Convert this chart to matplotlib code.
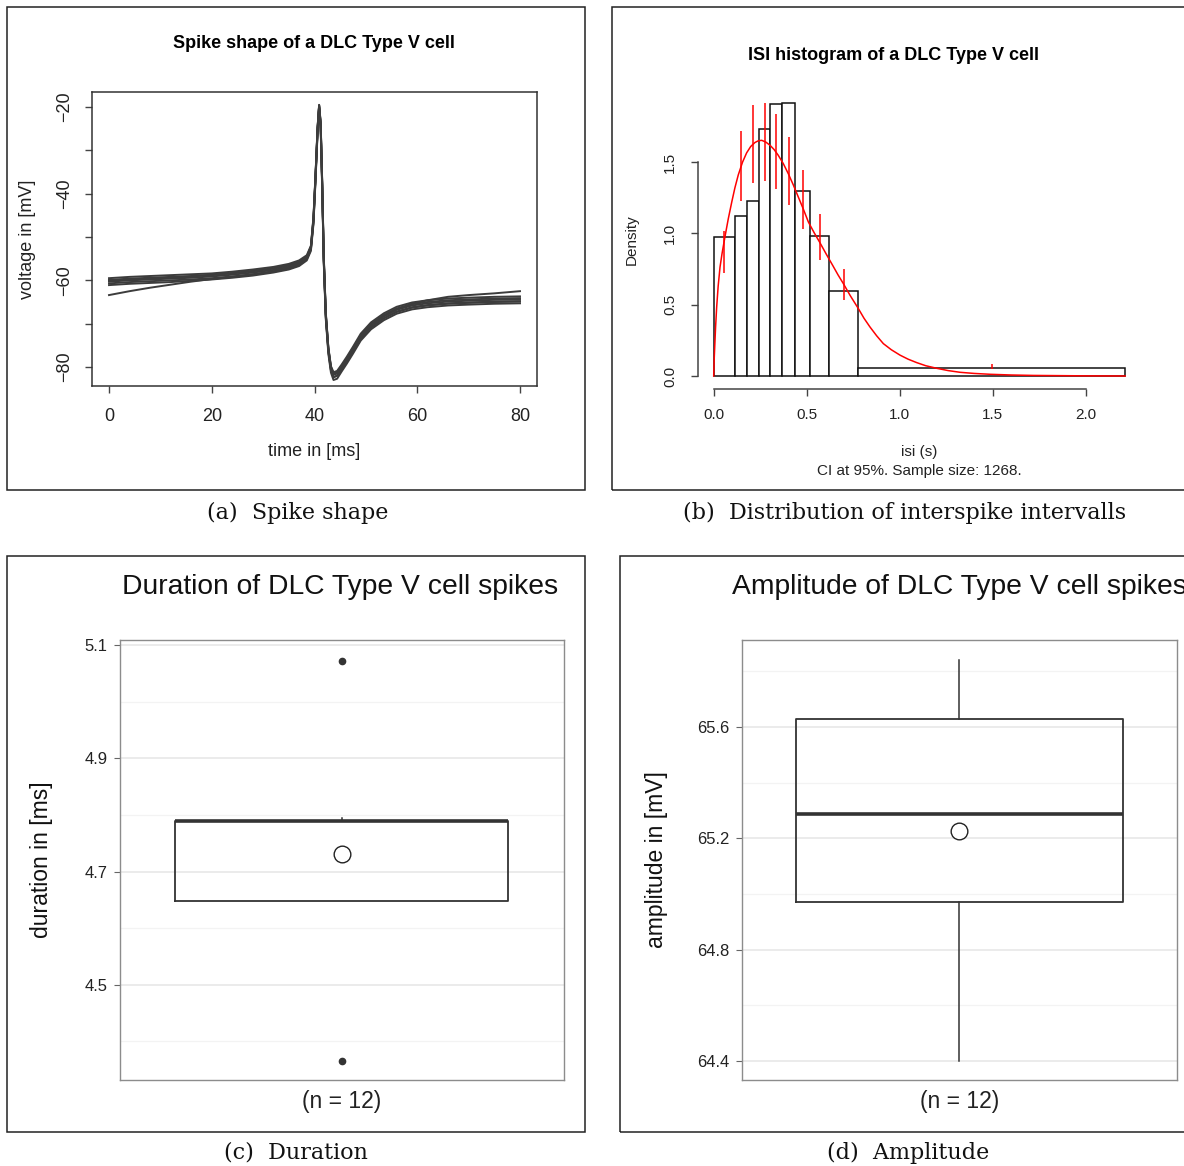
import numpy as np
import matplotlib
matplotlib.use("Agg")
import matplotlib.pyplot as plt
from matplotlib.patches import Rectangle

plt.rcParams['font.family'] = ['Liberation Sans', 'DejaVu Sans']

# ---- (a) spike shape: traces ----
t_ms = [0, 4, 8, 12, 16, 20, 24, 28, 32, 35, 37, 38.5, 39.3, 39.8, 40.2, 40.6, 40.9,
        41.2, 41.5, 41.8, 42.2, 42.7, 43.2, 43.7, 44.4, 45.3, 46.3, 47.5, 49, 51,
        53.5, 56, 59, 62, 66, 70, 75, 80]
trace_a = [-60.3, -60.0, -59.8, -59.6, -59.4, -59.1, -58.7, -58.2, -57.6, -56.9, -56.1, -54.8,
           -52.5, -46, -36, -25, -19.7, -24, -38, -55, -68, -76, -80.3, -81.8, -81.5, -80.0,
           -78.3, -76.0, -73.0, -70.4, -68.3, -66.8, -65.8, -65.3, -64.9, -64.7, -64.5, -64.4]
trace_b = [-59.5, -59.2, -59.0, -58.8, -58.6, -58.4, -58.0, -57.5, -56.9, -56.2, -55.4, -54.2,
           -52.0, -45.3, -35.5, -24.5, -19.5, -23.5, -37.2, -54.2, -67.4, -75.5, -79.8, -81.2,
           -80.9, -79.4, -77.6, -75.3, -72.3, -69.7, -67.6, -66.1, -65.1, -64.6, -64.2, -64.0,
           -63.8, -63.7]
trace_c = [-61.1, -60.8, -60.6, -60.4, -60.1, -59.8, -59.4, -58.9, -58.2, -57.5, -56.7, -55.4,
           -53.2, -47, -37, -26, -20.3, -25, -39, -56, -69, -77, -81.3, -83.0, -82.7, -81.0,
           -79.2, -76.9, -73.9, -71.3, -69.2, -67.7, -66.7, -66.2, -65.8, -65.6, -65.4, -65.3]
trace_d = [-59.9, -59.6, -59.4, -59.2, -59.0, -58.7, -58.3, -57.8, -57.2, -56.5, -55.7, -54.5,
           -52.2, -45.6, -35.8, -24.8, -19.6, -23.8, -37.6, -54.6, -67.7, -75.7, -80.0, -81.5,
           -81.2, -79.7, -78.0, -75.7, -72.7, -70.1, -68.0, -66.5, -65.5, -65.0, -64.6, -64.4,
           -64.2, -64.1]
trace_e = [-60.7, -60.4, -60.2, -60.0, -59.8, -59.5, -59.1, -58.6, -58.0, -57.3, -56.5, -55.1,
           -52.8, -46.5, -36.4, -25.4, -19.9, -24.4, -38.4, -55.4, -68.4, -76.4, -80.7, -82.3,
           -82.0, -80.4, -78.7, -76.4, -73.4, -70.8, -68.7, -67.2, -66.2, -65.7, -65.3, -65.1,
           -64.9, -64.8]
trace_f = [-63.4, -62.5, -61.7, -61.0, -60.3, -59.7, -59.2, -58.6, -57.9, -57.2, -56.4, -55.0,
           -52.8, -46.5, -36.5, -25.5, -20.0, -24.5, -38.5, -55.5, -68.5, -76.4, -80.7, -82.4,
           -82.0, -80.5, -78.8, -76.5, -73.5, -70.9, -68.8, -67.3, -66.3, -65.8, -65.4, -65.2,
           -65.0, -64.9]
trace_g = [-60.0, -59.8, -59.6, -59.4, -59.1, -58.8, -58.4, -57.9, -57.3, -56.6, -55.8, -54.6,
           -52.3, -45.8, -35.8, -24.8, -19.6, -23.8, -37.6, -54.6, -67.8, -75.8, -80.1, -81.6,
           -81.3, -79.8, -78.1, -75.8, -72.8, -70.2, -68.1, -66.6, -65.4, -64.6, -63.8, -63.4,
           -63.0, -62.5]
traces = [trace_a, trace_b, trace_c, trace_d, trace_e, trace_f, trace_g]

# ---- (b) ISI histogram ----
isi_breaks = [0, 0.1145, 0.1806, 0.2435, 0.3043, 0.3688, 0.4371, 0.5194, 0.6215, 0.7758, 2.212]
isi_density = [0.975, 1.122, 1.227, 1.735, 1.910, 1.915, 1.297, 0.980, 0.594, 0.054]
ci_lo = [0.722, 1.227, 1.353, 1.367, 1.311, 1.197, 1.031, 0.811, 0.536, 0.052]
ci_hi = [1.017, 1.718, 1.898, 1.917, 1.835, 1.676, 1.442, 1.139, 0.753, 0.082]
fit_x = [0, 0.003, 0.007, 0.010, 0.016, 0.024, 0.034, 0.045, 0.061, 0.078, 0.097, 0.114,
         0.132, 0.155, 0.177, 0.199, 0.222, 0.240, 0.258, 0.280, 0.303, 0.325, 0.347, 0.374,
         0.401, 0.428, 0.455, 0.482, 0.509, 0.540, 0.571, 0.605, 0.640, 0.668, 0.697, 0.733,
         0.777, 0.808, 0.840, 0.876, 0.912, 0.955, 1.002, 1.045, 1.091, 1.140, 1.199, 1.260,
         1.324, 1.400, 1.486, 1.600, 1.718, 2.000, 2.212]
fit_y = [0, 0.13, 0.25, 0.34, 0.484, 0.63, 0.764, 0.86, 0.98, 1.10, 1.22, 1.32,
         1.41, 1.50, 1.565, 1.61, 1.638, 1.650, 1.653, 1.641, 1.618, 1.588, 1.548, 1.49,
         1.419, 1.34, 1.255, 1.17, 1.080, 1.005, 0.935, 0.855, 0.775, 0.71, 0.648, 0.566,
         0.474, 0.405, 0.344, 0.282, 0.227, 0.184, 0.146, 0.118, 0.094, 0.072, 0.054, 0.038,
         0.026, 0.018, 0.012, 0.007, 0.004, 0.001, 0.0]

# ---- (c) duration / (d) amplitude box statistics ----
dur_box = dict(q1=4.648, med=4.79, q3=4.79, whislo=4.648, whishi=4.795, mean=4.731,
               fliers=[5.072, 4.366])
amp_box = dict(q1=64.971, med=65.286, q3=65.629, whislo=64.40, whishi=65.84, mean=65.225,
               fliers=[])
n_label = "(n = 12)"

W, H = 1184, 1166
fig = plt.figure(figsize=(W / 100, H / 100), dpi=100)


def add_ax(x0, y0, x1, y1):
    return fig.add_axes([x0 / W, 1 - y1 / H, (x1 - x0) / W, (y1 - y0) / H])


def ftext(x, y, s, **kw):
    kw.setdefault('ha', 'center')
    kw.setdefault('va', 'center')
    fig.text(x / W, 1 - y / H, s, **kw)


def frame(x0, y0, x1, y1):
    fig.add_artist(Rectangle((x0 / W, 1 - y1 / H), (x1 - x0) / W, (y1 - y0) / H,
                             transform=fig.transFigure, fill=False, ec='#222222', lw=1.1))


frame(7, 7, 585, 490)
frame(612, 7, 1200, 490)
frame(7, 556, 585, 1132)
frame(620, 556, 1200, 1132)

# ---------- panel a ----------
ax = add_ax(92, 92, 537, 386)
for tr in traces:
    ax.plot(t_ms, tr, color='#3c3c3c', lw=1.4, solid_joinstyle='round')
ax.set_xlim(-3.31, 83.31)
ax.set_ylim(-84.38, -16.54)
ax.set_xticks([0, 20, 40, 60, 80])
ax.set_xticklabels(['0', '20', '40', '60', '80'], fontsize=13, color='#222222')
yt = [-20, -30, -40, -50, -60, -70, -80]
ax.set_yticks(yt, ['\u221220', '', '\u221240', '', '\u221260', '', '\u221280'],
              rotation=90, ha='center', va='center', fontsize=13, color='#222222')
ax.tick_params(axis='x', length=5, width=1, color='#444444', pad=11)
ax.tick_params(axis='y', length=5, width=1, color='#444444', pad=15)
for s in ax.spines.values():
    s.set_color('#333333')
    s.set_linewidth(1.1)
ftext(314, 43, "Spike shape of a DLC Type V cell", fontsize=13, fontweight='bold')
ftext(314, 452, "time in [ms]", fontsize=13, color='#222222')
ftext(28, 239, "voltage in [mV]", fontsize=13, rotation=90, color='#222222')

# ---------- panel b ----------
bx = add_ax(698, 94, 1141, 389)
edges = np.array(isi_breaks)
widths = np.diff(edges)
mids = edges[:-1] + widths / 2
bx.bar(edges[:-1], isi_density, width=widths, align='edge', facecolor='white',
       edgecolor='#111111', lw=1.1)
bx.plot(fit_x, fit_y, color='red', lw=1.1)
bx.vlines(mids, ci_lo, ci_hi, color='red', lw=1.1)
bx.set_xlim(-0.0844, 2.297)
bx.set_ylim(-0.0912, 1.978)
for side in ['top', 'right']:
    bx.spines[side].set_visible(False)
bx.spines['left'].set_bounds(0, 1.5)
bx.spines['bottom'].set_bounds(0, 2.0)
for side in ['left', 'bottom']:
    bx.spines[side].set_color('#444444')
    bx.spines[side].set_linewidth(1.1)
bx.set_xticks([0, 0.5, 1.0, 1.5, 2.0])
bx.set_xticklabels(['0.0', '0.5', '1.0', '1.5', '2.0'], fontsize=11, color='#222222')
bx.set_yticks([0, 0.5, 1.0, 1.5], ['0.0', '0.5', '1.0', '1.5'], rotation=90,
              ha='center', va='center', fontsize=11, color='#222222')
bx.tick_params(axis='x', length=5, width=1, color='#444444', pad=9)
bx.tick_params(axis='y', length=5, width=1, color='#444444', pad=15)
ftext(893, 55, "ISI histogram of a DLC Type V cell", fontsize=13, fontweight='bold')
ftext(632, 240, "Density", fontsize=11, rotation=90, color='#222222')
ftext(919, 452, "isi (s)", fontsize=11, color='#222222')
ftext(919, 471, "CI at 95%. Sample size: 1268.", fontsize=11, color='#222222')


# ---------- panels c, d ----------
def box_panel(axb, stats, major, minor, ylim, title, ylabel, tx, lx):
    axb.set_ylim(*ylim)
    axb.set_xlim(0.4, 1.6)
    for v in minor:
        axb.axhline(v, color='#f3f3f3', lw=0.9, zorder=0)
    for v in major:
        axb.axhline(v, color='#e6e6e6', lw=1.1, zorder=0)
    st = dict(stats)
    st['label'] = n_label
    axb.bxp([st], positions=[1], widths=0.9, showmeans=True, showcaps=False,
            patch_artist=False,
            boxprops=dict(color='#333333', lw=1.3),
            whiskerprops=dict(color='#333333', lw=1.1),
            medianprops=dict(color='#333333', lw=2.6),
            meanprops=dict(marker='o', markerfacecolor='white', markeredgecolor='#222222',
                           markersize=12, markeredgewidth=1),
            flierprops=dict(marker='o', markerfacecolor='#333333', markeredgecolor='#333333',
                            markersize=4.5))
    axb.set_yticks(major, [f"{v:.1f}" for v in major], fontsize=12, color='#222222')
    axb.set_xticks([1], [n_label], fontsize=16.5, color='#222222')
    axb.tick_params(axis='y', length=4, width=0.8, color='#666666', pad=5)
    axb.tick_params(axis='x', length=0, pad=7)
    for s in axb.spines.values():
        s.set_color('#8c8c8c')
        s.set_linewidth(1.0)
    ftext(tx, 587, title, fontsize=20.3, color='#111111')
    ftext(lx, 860, ylabel, fontsize=16.5, rotation=90, color='#111111')


cx = add_ax(120, 640, 564, 1080)
box_panel(cx, dur_box, [4.5, 4.7, 4.9, 5.1], [4.4, 4.6, 4.8, 5.0], (4.332, 5.109),
          "Duration of DLC Type V cell spikes", "duration in [ms]", 340, 42)

dx = add_ax(742, 640, 1177, 1080)
box_panel(dx, amp_box, [64.4, 64.8, 65.2, 65.6], [64.6, 65.0, 65.4, 65.8], (64.332, 65.913),
          "Amplitude of DLC Type V cell spikes", "amplitude in [mV]", 959, 656)

# ---------- captions ----------
cap = dict(fontsize=16, family='DejaVu Serif', color='#111111')
ftext(298, 513, "(a)  Spike shape", **cap)
ftext(905, 513, "(b)  Distribution of interspike intervalls", **cap)
ftext(296, 1153, "(c)  Duration", **cap)
ftext(908, 1153, "(d)  Amplitude", **cap)

fig.savefig("out.png", dpi=100)
